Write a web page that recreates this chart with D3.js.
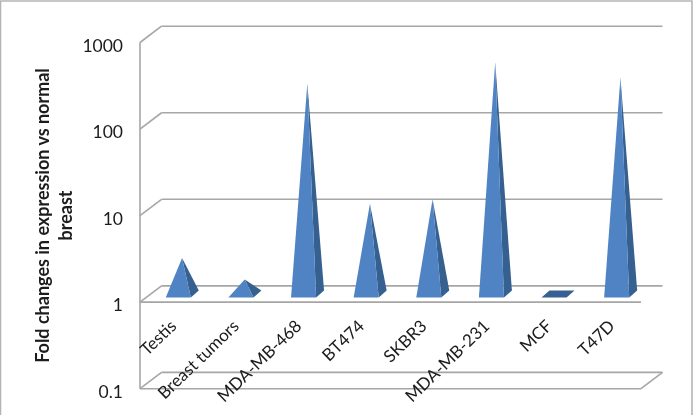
<!DOCTYPE html>
<html>
<head>
<meta charset="utf-8">
<script src="https://cdnjs.cloudflare.com/ajax/libs/d3/7.8.5/d3.min.js"></script>
<style>
  html, body { margin: 0; padding: 0; background: #fff; }
  svg { display: block; }
  text { font-family: Lato, "Open Sans", sans-serif; fill: #1c1c1c; }
  .grid { fill: none; stroke: #a6a6a6; stroke-width: 1.6; }
</style>
</head>
<body>
<svg width="693" height="415"></svg>
<script>
const categories = ["Testis", "Breast tumors", "MDA-MB-468", "BT474", "SKBR3", "MDA-MB-231", "MCF", "T47D"];
const foldChanges = [2.6, 1.47, 270, 11, 12.4, 475, 1, 318];
const yTicks = [0.1, 1, 10, 100, 1000];
const yTickLabels = ["0.1", "1", "10", "100", "1000"];
const yTitleLines = ["Fold changes in expression vs normal", "breast"];

const svgRoot = d3.select("svg");
const width = +svgRoot.attr("width");
const height = +svgRoot.attr("height");

// the reference is a slightly soft screenshot
svgRoot.append("defs").append("filter")
  .attr("id", "soft")
  .attr("x", 0).attr("y", 0).attr("width", 1).attr("height", 1)
  .append("feGaussianBlur")
  .attr("stdDeviation", 0.35);

const svg = svgRoot.append("g").attr("filter", "url(#soft)");

svg.append("rect")
  .attr("width", width)
  .attr("height", height)
  .attr("fill", "#fff");

// front plane of the fake 3d box, the back walls are shifted by depth
const plot = { left: 140, right: 641, top: 42.5, bottom: 388.7 };
const depth = { x: 21.5, y: -16.3 };

const x = d3.scaleBand()
  .domain(categories)
  .range([plot.left, plot.right]);

const y = d3.scaleLog()
  .domain([0.1, 1000])
  .range([plot.bottom, plot.top]);

// chart frame
svg.append("path")
  .attr("d", `M0.5,${height} V1 H${width - 1} V${height}`)
  .attr("fill", "none")
  .attr("stroke", "#b5b5b5")
  .attr("stroke-width", 1.6);

drawGrid();
drawYAxis();
drawPyramids();
drawXLabels();
drawYTitle();

function drawGrid() {
  const g = svg.append("g");

  // back wall gridlines
  g.selectAll(".back")
    .data(yTicks)
    .join("line")
      .attr("class", "grid back")
      .attr("x1", plot.left + depth.x)
      .attr("x2", plot.right + depth.x)
      .attr("y1", d => y(d) + depth.y)
      .attr("y2", d => y(d) + depth.y);

  // side wall diagonals
  g.selectAll(".side")
    .data(yTicks)
    .join("line")
      .attr("class", "grid side")
      .attr("x1", plot.left)
      .attr("x2", plot.left + depth.x)
      .attr("y1", d => y(d))
      .attr("y2", d => y(d) + depth.y);

  // vertical axis line
  g.append("line")
    .attr("class", "grid")
    .attr("x1", plot.left)
    .attr("x2", plot.left)
    .attr("y1", y(1000))
    .attr("y2", y(0.1));

  // front edges at 1 and at 0.1
  g.selectAll(".front")
    .data([0.1, 1])
    .join("line")
      .attr("class", "grid front")
      .attr("x1", plot.left)
      .attr("x2", plot.right)
      .attr("y1", d => y(d))
      .attr("y2", d => y(d));

  // floor corner on the right
  g.append("line")
    .attr("class", "grid")
    .attr("x1", plot.right)
    .attr("x2", plot.right + depth.x)
    .attr("y1", y(0.1))
    .attr("y2", y(0.1) + depth.y);
}

function drawYAxis() {
  const axis = d3.axisLeft(y)
    .tickValues(yTicks)
    .tickFormat((d, i) => yTickLabels[i])
    .tickSize(0)
    .tickPadding(17);

  svg.append("g")
    .attr("transform", `translate(${plot.left}, 0)`)
    .call(axis)
    .call(g => g.select(".domain").remove())
    .call(g => g.selectAll("text")
      .attr("dy", "0.5em")
      .style("font-size", "17.5px"));
}

function drawPyramids() {
  const bw = x.bandwidth();
  const baseY = y(1) + depth.y / 2;

  const g = svg.selectAll(".pyramid")
    .data(categories.map((c, i) => ({ name: c, value: foldChanges[i] })))
    .join("g")
      .attr("class", "pyramid");

  const cx = d => x(d.name) + bw / 2 + depth.x / 2;
  const frontY = baseY + 3.5;
  const backY = baseY - 3.5;
  const corners = d => ({
    fl: [cx(d) - bw * 0.26, frontY],
    fr: [cx(d) + bw * 0.14, frontY],
    br: [cx(d) + bw * 0.267, backY],
    bl: [cx(d) - bw * 0.133, backY],
    apex: [cx(d), y(d.value) + depth.y / 2]
  });
  const poly = pts => "M" + pts.map(p => p.join(",")).join("L") + "Z";

  // MCF sits right on the 1 line so only its flat base shows
  g.filter(d => d.value <= 1).append("path")
    .attr("fill", "#376092")
    .attr("d", d => {
      const c = corners(d);
      return poly([c.fl, c.fr, c.br, c.bl]);
    });

  const tall = g.filter(d => d.value > 1);

  tall.append("path")
    .attr("fill", "#35608f")
    .attr("d", d => {
      const c = corners(d);
      return poly([c.fr, c.br, c.apex]);
    });

  tall.append("path")
    .attr("fill", "#4f83c3")
    .attr("d", d => {
      const c = corners(d);
      return poly([c.fl, c.fr, c.apex]);
    });
}

function drawXLabels() {
  svg.selectAll(".x-label")
    .data(categories)
    .join("text")
      .attr("class", "x-label")
      .attr("text-anchor", "end")
      .attr("transform", d => `translate(${x(d) + x.bandwidth() / 2 + 2}, 323) rotate(-44)`)
      .attr("dy", "0.35em")
      .style("font-size", "17px")
      .text(d => d);
}

function drawYTitle() {
  const title = svg.append("text")
    .attr("text-anchor", "middle")
    .attr("transform", "translate(48.5, 215.5) rotate(-90)")
    .style("font-size", "18px")
    .style("font-weight", "700");

  title.selectAll("tspan")
    .data(yTitleLines)
    .join("tspan")
      .attr("x", 0)
      .attr("dy", (d, i) => i ? 23 : 0)
      .text(d => d);
}
</script>
</body>
</html>
